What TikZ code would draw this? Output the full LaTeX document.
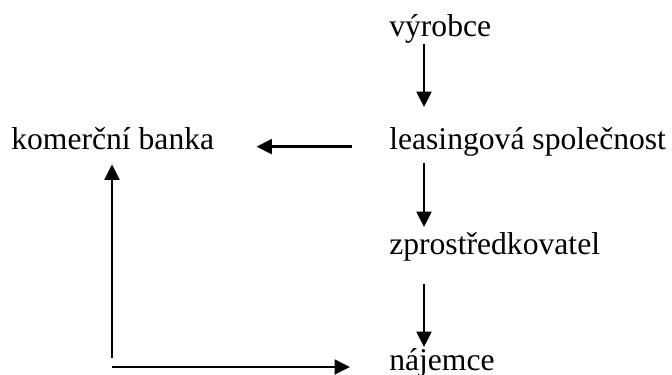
\documentclass[tikz,border=0pt]{standalone}
\usepackage{fontspec}
\setmainfont{Liberation Serif}
\usetikzlibrary{arrows.meta}

\begin{document}
\begin{tikzpicture}[>={Triangle[length=11pt,width=10.5pt]}]

% --- Stijlen ---
\tikzset{
    partij/.style={
        font=\fontsize{22.5}{27}\selectfont,
        anchor=base west,
        inner sep=0pt,
        text height=0.7em,
        text depth=0.22em
    },
    pijl/.style={
        ->,
        line width=1.9pt,
        draw=black
    }
}

\useasboundingbox (0,0) rectangle (16.8,9.35);

% --- Knooppunten ---
\node[partij] (vyrobce)  at (9.725, 8.425) {výrobce};
\node[partij] (leasing)  at (9.725, 5.6)   {leasingová společnost};
\node[partij] (banka)    at (0.275, 5.6)   {komerční banka};
\node[partij] (zprostr)  at (9.725, 2.975) {zprostředkovatel};
\node[partij] (najemce)  at (9.725, 0.1)   {nájemce};

% hoekpunten van de losse pijlen
\coordinate (hoekV) at (2.8, 0.4);
\coordinate (hoekH) at (2.8, 0.175);

% --- Pijlen ---
\draw[pijl, shorten <=0.1cm, shorten >=0.82cm]
    ([xshift=0.875cm]vyrobce.south west) -- ([xshift=0.875cm]leasing.north west);
\draw[pijl, shorten <=0.25cm, shorten >=0.445cm]
    ([xshift=0.875cm]leasing.south west) -- ([xshift=0.875cm]zprostr.north west);
\draw[pijl, shorten <=0.65cm, shorten >=0.32cm]
    ([xshift=0.875cm]zprostr.south west) -- ([xshift=0.875cm]najemce.north west);

\draw[pijl, shorten <=0.925cm, shorten >=1.05cm] (leasing.west) -- (banka.east);

\draw[pijl, shorten >=0.275cm] (hoekV) -- (hoekV |- banka.south);
\draw[pijl, shorten >=0.975cm] (hoekH) -- (hoekH -| najemce.west);

\end{tikzpicture}
\end{document}
